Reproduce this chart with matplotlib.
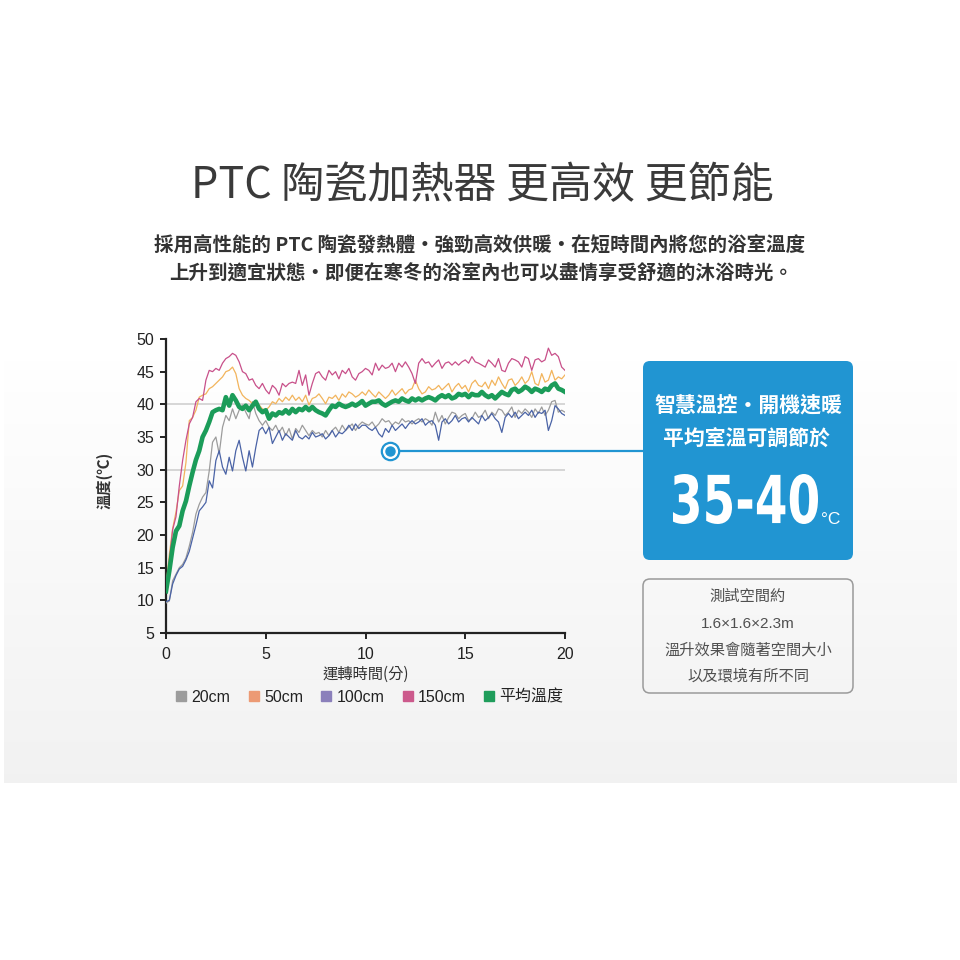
import numpy as np
import matplotlib
matplotlib.use('Agg')
import matplotlib.pyplot as plt
from matplotlib.lines import Line2D
from matplotlib.patches import FancyBboxPatch, PathPatch
from matplotlib.textpath import TextPath
from matplotlib.font_manager import FontProperties
from matplotlib.transforms import Affine2D

plt.rcParams['font.family'] = ['Liberation Sans', 'Noto Sans CJK TC']
CJK = ['Noto Sans CJK TC', 'DejaVu Sans']
LATIN_FIRST = ['Liberation Sans', 'Noto Sans CJK TC']

# 每 10 秒記錄一次, 共 20 分鐘
seconds = list(range(0, 1201, 10))
minutes = np.array(seconds) / 60

temp_20cm = [
    9.6, 9.9, 13.0, 14.0, 15.0, 15.5, 16.5, 18.3, 20.4, 23.2, 24.7, 25.8, 26.5, 29.8, 34.2, 35.0,
    32.4, 36.5, 38.3, 37.5, 39.3, 37.8, 39.1, 39.9, 38.8, 37.8, 40.4, 38.6, 37.5, 36.8, 37.5, 36.5,
    36.0, 36.8, 35.7, 36.5, 35.2, 36.3, 34.7, 36.3, 35.7, 36.8, 36.0, 35.2, 36.0, 35.5, 35.7, 35.0,
    36.0, 35.2, 36.0, 36.5, 35.7, 36.8, 36.0, 36.5, 37.0, 36.0, 36.8, 37.3, 37.0, 36.8, 37.3, 36.5,
    37.0, 37.8, 37.3, 37.5, 36.8, 37.3, 37.0, 37.8, 37.3, 37.5, 37.0, 37.5, 37.8, 37.3, 37.8, 37.5,
    36.8, 38.8, 37.3, 38.3, 37.0, 38.0, 38.8, 38.6, 37.8, 38.3, 38.6, 37.5, 37.8, 38.8, 38.0, 38.3,
    39.1, 37.8, 38.8, 38.3, 39.3, 39.1, 38.3, 38.8, 39.6, 38.0, 39.1, 38.6, 39.3, 38.8, 38.0, 39.3,
    38.6, 39.6, 38.3, 39.1, 40.4, 40.6, 38.8, 39.1, 38.8]

temp_50cm = [
    12.0, 17.0, 21.0, 23.5, 26.8, 27.5, 31.1, 37.5, 38.0, 39.1, 41.1, 41.4, 41.6, 42.4, 42.7, 43.2,
    43.7, 44.2, 45.0, 45.2, 45.7, 44.7, 42.4, 41.4, 40.9, 40.6, 40.1, 40.4, 39.9, 39.3, 39.1, 39.6,
    40.4, 40.1, 40.9, 40.4, 41.1, 40.6, 41.4, 40.6, 41.1, 40.4, 41.4, 39.9, 40.9, 41.1, 41.6, 40.9,
    40.1, 41.1, 40.9, 41.4, 40.6, 41.6, 41.1, 41.9, 41.6, 41.1, 41.4, 41.9, 41.4, 42.2, 41.6, 41.1,
    41.9, 41.4, 40.9, 41.4, 42.2, 41.4, 41.9, 42.4, 41.6, 42.2, 42.4, 43.7, 42.4, 41.6, 41.9, 42.7,
    42.2, 42.4, 42.9, 42.2, 42.7, 43.2, 41.9, 42.7, 43.2, 42.4, 42.9, 41.9, 43.2, 43.7, 42.9, 42.7,
    43.4, 42.4, 43.7, 42.9, 44.2, 43.2, 42.4, 43.7, 43.9, 42.9, 43.4, 44.2, 43.2, 43.7, 45.0, 43.2,
    42.9, 44.7, 43.4, 43.7, 45.2, 43.7, 44.2, 43.9, 44.5]

temp_100cm = [
    9.8, 10.0, 12.5, 13.8, 14.8, 15.2, 16.2, 17.5, 19.5, 21.5, 23.7, 24.3, 25.0, 28.3, 27.2, 31.4,
    32.9, 30.4, 29.3, 31.9, 29.8, 32.9, 34.5, 31.9, 29.8, 32.9, 30.4, 33.4, 36.0, 36.5, 35.5, 36.5,
    34.0, 35.0, 36.0, 34.5, 35.5, 35.0, 34.5, 36.0, 35.0, 34.7, 35.2, 34.7, 35.7, 35.0, 35.2, 35.5,
    34.7, 35.2, 36.0, 35.0, 35.7, 35.5, 36.0, 36.8, 36.0, 37.0, 36.3, 36.8, 36.8, 36.3, 36.0, 36.5,
    35.5, 35.0, 36.3, 35.7, 36.8, 36.0, 36.5, 37.0, 36.3, 37.0, 37.5, 37.0, 37.3, 37.8, 36.8, 37.3,
    37.5, 36.8, 34.5, 37.3, 37.8, 37.0, 37.5, 38.3, 37.3, 37.8, 38.0, 37.3, 38.0, 37.5, 37.0, 38.3,
    37.5, 38.0, 38.6, 37.8, 37.3, 35.7, 38.0, 38.6, 38.0, 38.8, 37.8, 38.3, 38.8, 38.3, 39.1, 38.0,
    38.8, 38.6, 39.1, 36.0, 37.5, 39.8, 39.3, 38.6, 38.3]

temp_150cm = [
    12.0, 16.0, 20.8, 22.8, 27.5, 31.4, 34.5, 37.0, 38.0, 40.4, 40.9, 40.6, 43.7, 45.2, 45.0, 45.5,
    45.2, 46.3, 47.0, 47.3, 47.8, 47.5, 46.5, 45.0, 44.7, 43.7, 43.9, 42.9, 42.4, 43.2, 42.2, 41.6,
    42.9, 42.4, 41.4, 43.2, 42.7, 43.2, 43.4, 43.2, 45.2, 42.9, 44.5, 41.4, 43.2, 44.7, 45.0, 44.2,
    43.7, 45.2, 44.5, 45.0, 43.9, 45.2, 44.7, 45.5, 44.2, 43.7, 44.7, 45.0, 45.5, 45.2, 44.5, 46.3,
    45.2, 46.0, 45.5, 45.7, 46.3, 45.0, 46.3, 45.7, 46.5, 45.7, 44.7, 43.2, 46.3, 47.0, 46.3, 46.5,
    45.7, 46.3, 46.8, 45.5, 46.3, 46.5, 46.0, 46.5, 46.0, 46.5, 46.8, 46.3, 47.3, 46.5, 46.3, 46.0,
    45.7, 46.8, 46.3, 45.7, 47.0, 45.2, 45.0, 46.3, 47.0, 46.8, 46.5, 45.7, 47.3, 47.0, 45.2, 46.8,
    47.0, 46.5, 46.8, 48.6, 47.5, 47.8, 47.3, 45.7, 45.2]

temp_avg = [
    11.4, 14.5, 18.1, 20.6, 21.4, 23.7, 25.2, 27.5, 29.6, 31.5, 32.9, 35.0, 36.0, 37.3, 38.8, 39.1,
    39.3, 39.1, 41.1, 39.8, 41.4, 40.6, 39.6, 39.3, 39.8, 39.1, 39.8, 40.4, 39.3, 38.8, 39.1, 37.8,
    38.6, 38.3, 38.8, 38.6, 39.1, 38.6, 39.3, 38.8, 39.3, 39.1, 39.6, 39.1, 39.6, 39.1, 38.8, 38.6,
    38.3, 39.1, 39.8, 39.6, 40.1, 39.8, 39.6, 39.8, 40.1, 39.8, 40.1, 40.5, 39.8, 40.1, 40.4, 40.4,
    40.6, 40.1, 39.8, 40.1, 40.4, 40.6, 40.4, 40.9, 40.6, 40.4, 40.9, 40.6, 40.9, 40.6, 40.9, 41.1,
    40.9, 40.6, 41.1, 41.4, 41.1, 41.4, 40.9, 41.1, 41.6, 41.4, 41.6, 41.1, 41.6, 41.4, 41.4, 41.9,
    41.4, 41.1, 41.4, 40.9, 41.4, 41.9, 41.6, 41.4, 42.2, 42.4, 41.9, 42.2, 42.7, 42.4, 41.9, 42.4,
    42.2, 41.9, 42.4, 42.2, 42.9, 43.2, 42.4, 42.2, 41.9]

series_names = ['20cm', '50cm', '100cm', '150cm', '平均溫度']
series_values = [temp_20cm, temp_50cm, temp_100cm, temp_150cm, temp_avg]
line_colors = ['#9c9c9c', '#f2b45c', '#4a63a6', '#c8508a', '#1b9c59']
legend_colors = ['#9c9c9c', '#ec9a74', '#8b80bb', '#cc5a8c', '#1f9d5b']
line_widths = [0.9, 0.9, 0.9, 0.9, 3.3]

# 標記點 (分, ℃)
marker_x, marker_y = 11.23, 32.9
BLUE = '#2195d2'

fig = plt.figure(figsize=(9.6, 9.6), dpi=100)

# 背景 (像素座標)
bg = fig.add_axes([0, 0, 1, 1])
shade = np.concatenate([np.full(360, 1.0), np.linspace(1.0, 0.948, 423)])
bg.imshow(np.dstack([shade, shade, shade]).reshape(-1, 1, 3),
          extent=[4, 957, 783, 0], aspect='auto', zorder=0)
bg.set_xlim(0, 960)
bg.set_ylim(960, 0)
bg.axis('off')

bg.text(482, 186, 'PTC 陶瓷加熱器 更高效 更節能', family=CJK, fontsize=31,
        weight='light', color='#3a3a3a', ha='center', va='center')
bg.text(480, 245, '採用高性能的 PTC 陶瓷發熱體·強勁高效供暖·在短時間內將您的浴室溫度',
        family=CJK, fontsize=14, weight='bold', color='#333333', ha='center', va='center')
bg.text(481, 273, '上升到適宜狀態·即便在寒冬的浴室內也可以盡情享受舒適的沐浴時光。',
        family=CJK, fontsize=14, weight='bold', color='#333333', ha='center', va='center')

# 藍色說明框
bg.add_patch(FancyBboxPatch((643, 361), 210, 199, boxstyle='round,pad=0,rounding_size=7',
                            facecolor=BLUE, edgecolor='none', zorder=2))
bg.text(748, 405, '智慧溫控·開機速暖', family=CJK, fontsize=15, weight='bold',
        color='white', ha='center', va='center', zorder=3)
bg.text(747, 439, '平均室溫可調節於', family=CJK, fontsize=15, weight='bold',
        color='white', ha='center', va='center', zorder=3)
big = TextPath((0, 0), '35-40', size=100,
               prop=FontProperties(family=['Liberation Sans Narrow', 'DejaVu Sans'], weight='bold'))
ext = big.get_extents()
sx = 145 / ext.width
sy = 50 / ext.height
tr = Affine2D().translate(-ext.x0, -ext.y0).scale(sx, -sy).translate(673, 524) + bg.transData
bg.add_patch(PathPatch(big, transform=tr, facecolor='white', edgecolor='none', zorder=3))
bg.text(821, 520, '°C', fontsize=12.5, color='white', ha='left', va='center', zorder=3)

# 灰色說明框
bg.add_patch(FancyBboxPatch((643, 579), 210, 114, boxstyle='round,pad=0,rounding_size=7',
                            facecolor='none', edgecolor='#9a9a9a', lw=1.1, zorder=2))
note_lines = ['測試空間約', '1.6×1.6×2.3m', '溫升效果會隨著空間大小', '以及環境有所不同']
for k, line in enumerate(note_lines):
    bg.text(748, 597 + k * 26.5, line, family=LATIN_FIRST,
            fontsize=11, color='#505050', ha='center', va='center', zorder=3)

# 主圖
ax = fig.add_axes([166 / 960, 327 / 960, 399 / 960, 294 / 960], zorder=2)
ax.set_facecolor('none')
ax.set_xlim(0, 20)
ax.set_ylim(5, 50)
ax.set_xticks(range(0, 21, 5))
ax.set_yticks(range(5, 51, 5))
for s in ['top', 'right']:
    ax.spines[s].set_visible(False)
for s in ['left', 'bottom']:
    ax.spines[s].set_color('#222222')
    ax.spines[s].set_linewidth(1.6)
ax.tick_params(axis='y', direction='out', length=4.5, width=1.4, pad=4,
               labelsize=11.5, color='#222222', labelcolor='#222222')
ax.tick_params(axis='x', direction='out', length=4, width=1.4, pad=6,
               labelsize=11.5, color='#222222', labelcolor='#222222')
for g in [30, 40]:
    ax.axhline(g, color='#cccccc', lw=1.1, zorder=1)

for vals, c, lw in zip(series_values, line_colors, line_widths):
    ax.plot(minutes, vals, color=c, lw=lw, zorder=3, solid_joinstyle='round')

ax.set_xlabel('運轉時間(分)', family=CJK, fontsize=11, color='#333333')
ax.xaxis.set_label_coords(0.5, -0.113)
ax.set_ylabel('溫度(℃)', family=CJK, fontsize=11, weight='bold', color='#333333')
ax.yaxis.set_label_coords(-0.133, 0.52)

handles = [Line2D([], [], marker='s', ls='', color=c, markersize=6.5) for c in legend_colors]
ax.legend(handles, series_names, loc='center', bbox_to_anchor=(0.511, -0.218), ncol=5,
          frameon=False, handlelength=0.6, handletextpad=0.35, columnspacing=1.15,
          prop={'family': LATIN_FIRST, 'size': 11.5}, labelcolor='#222222')

# 指示線與圓點
ax.plot([marker_x, (643 - 166) / 399 * 20], [marker_y, marker_y], color=BLUE, lw=1.6,
        clip_on=False, zorder=5)
ax.plot(marker_x, marker_y, 'o', ms=12.5, mfc='white', mec=BLUE, mew=1.6, zorder=6, clip_on=False)
ax.plot(marker_x, marker_y, 'o', ms=6.5, color=BLUE, zorder=7, clip_on=False)

fig.savefig('out.png', dpi=100)
